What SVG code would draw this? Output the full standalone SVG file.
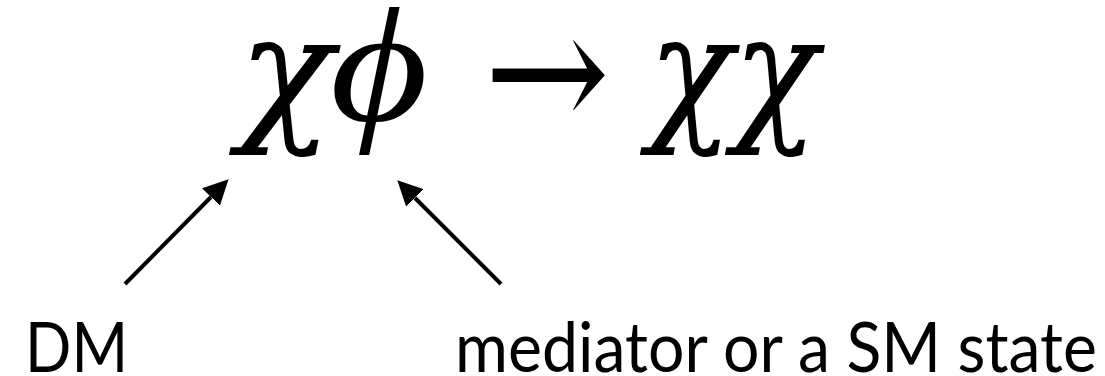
<svg xmlns="http://www.w3.org/2000/svg" width="1105" height="376" viewBox="0 0 1105 376">
<style>
.math{font-family:"DejaVu Serif","Liberation Serif",serif;font-style:italic;font-size:152px;fill:#000}
.phi{font-family:"Liberation Serif","DejaVu Serif",serif;font-style:italic;font-size:164px;fill:#000}
.op{font-family:"DejaVu Serif","Liberation Serif",serif;font-size:170px;fill:#000}
.lbl{font-family:Lato,"Open Sans",sans-serif;font-size:70px;fill:#000}
.conn{stroke:#000;stroke-width:4;fill:none}
</style>
<defs>
<marker id="ah" markerUnits="userSpaceOnUse" markerWidth="26" markerHeight="26" refX="0" refY="12.5" orient="auto">
<path d="M0,0 L25,12.5 L0,25 z" fill="#000"/>
</marker>
</defs>
<rect width="1105" height="376" fill="#fff"/>
<g id="equation">
<text class="math" x="238" y="123" textLength="95" lengthAdjust="spacingAndGlyphs">χ</text>
<text class="phi" x="330" y="120" textLength="98" lengthAdjust="spacingAndGlyphs">ϕ</text>
<text class="op" x="484" y="130" textLength="126" lengthAdjust="spacingAndGlyphs">→</text>
<text class="math" x="648" y="123" textLength="170" lengthAdjust="spacingAndGlyphs">χχ</text>
</g>
<g id="connectors">
<line class="conn" x1="125" y1="284" x2="211" y2="197" marker-end="url(#ah)"/>
<line class="conn" x1="501" y1="284" x2="415" y2="198" marker-end="url(#ah)"/>
</g>
<g id="label-dm"><text class="lbl" x="25" y="372" textLength="103" lengthAdjust="spacingAndGlyphs">DM</text></g>
<g id="label-mediator"><text class="lbl" x="455" y="372" textLength="642" lengthAdjust="spacingAndGlyphs">mediator or a SM state</text></g>
</svg>
